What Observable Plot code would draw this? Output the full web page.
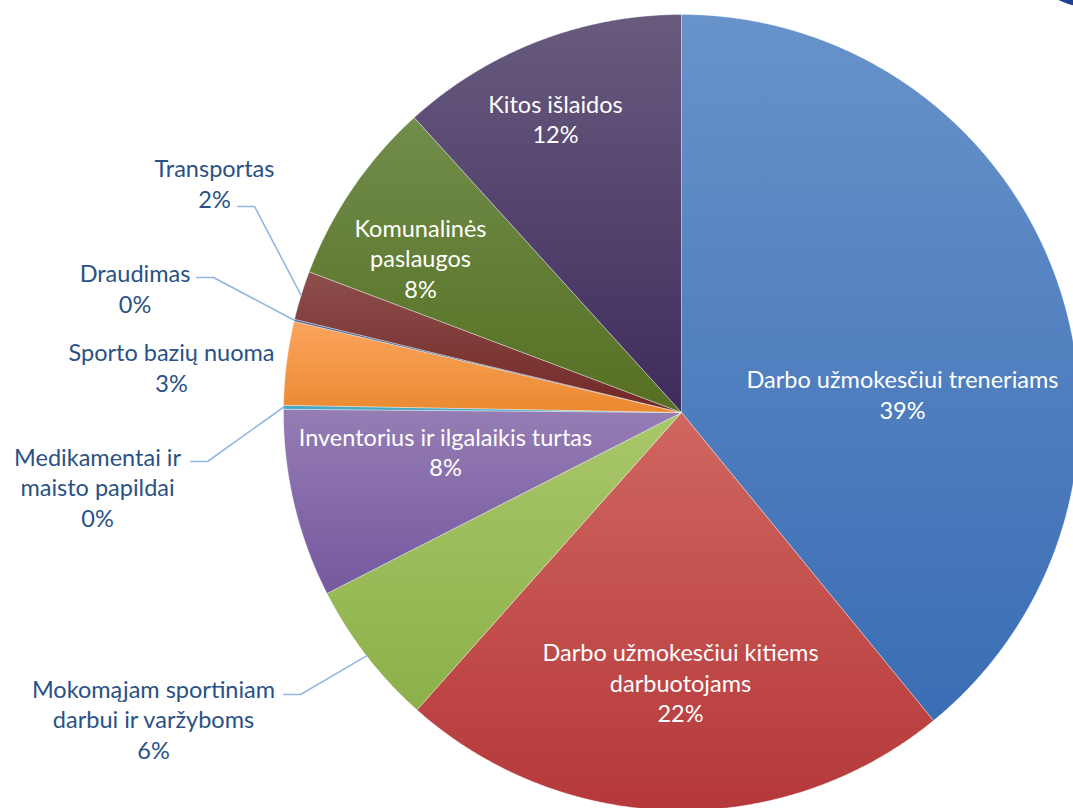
<!DOCTYPE html>
<html>
<head>
<meta charset="utf-8">
<script src="https://cdn.jsdelivr.net/npm/d3@7"></script>
<script src="https://cdn.jsdelivr.net/npm/@observablehq/plot@0.6"></script>
<style>
  html, body { margin: 0; padding: 0; background: #fff; overflow: hidden; }
  #wrap { position: relative; width: 1073px; height: 808px; overflow: hidden; }
  #blob { position: absolute; left: 1048px; top: -34px; width: 130px; height: 44px; border-radius: 50%; background: #1f3f93; }
</style>
</head>
<body>
<div id="wrap"><div id="chart"></div><div id="blob"></div></div>
<script>
// ---- data ----
const categories = [
  "Darbo užmokesčiui treneriams",
  "Darbo užmokesčiui kitiems\ndarbuotojams",
  "Mokomąjam sportiniam\ndarbui ir varžyboms",
  "Inventorius ir ilgalaikis turtas",
  "Medikamentai ir\nmaisto papildai",
  "Sporto bazių nuoma",
  "Draudimas",
  "Transportas",
  "Komunalinės\npaslaugos",
  "Kitos išlaidos"
];
const percentValues = [39.09, 22.48, 5.92, 7.64, 0.16, 3.39, 0.08, 1.99, 7.53, 11.72];
const percentLabels = ["39%", "22%", "6%", "8%", "0%", "3%", "0%", "2%", "8%", "12%"];

// ---- styles / layout ----
const sliceColors = [
  ["#6892ca", "#3a6db4"],
  ["#d0665f", "#b5383a"],
  ["#a8c76a", "#8cb049"],
  ["#957db4", "#75589f"],
  ["#4bacc6", "#43a2bd"],
  ["#fca45e", "#ea892f"],
  ["#3e6192", "#335482"],
  ["#8d4e4c", "#712826"],
  ["#718d4a", "#566f22"],
  ["#685b7e", "#3e2c5c"]
];
const insideLabel = [true, true, false, true, false, false, false, false, true, true];
// label block centers, in pie-radius units (pie centre = 0,0)
const labelAnchors = [
  [0.5553, 0.0477], [-0.0025, -0.6771], [-1.3266, -0.7688], [-0.5930, -0.0967],
  [-1.4673, -0.1859], [-1.2814, 0.1156], [-1.3731, 0.3141], [-1.1734, 0.5779],
  [-0.6558, 0.3894], [-0.3166, 0.7399]
];
// leader-line elbows (pie-radius units); null = no leader
const leaderElbows = [null, null, [-0.9573, -0.7085], null, [-1.1910, -0.1231], null,
  [-1.1759, 0.3392], [-1.0729, 0.5176], null, null];
const leaderTail = 0.042;

const W = 1073, H = 808, R = 398, CX = 681, CY = 412;

// ---- geometry from data ----
const arcs = d3.pie().sort(null).value(d => d)(percentValues);
const slicePts = [];
arcs.forEach((a, i) => {
  const fill = `url(#grad${i})`;
  slicePts.push({x: 0, y: 0, s: i, fill});
  const n = Math.max(2, Math.ceil((a.endAngle - a.startAngle) / 0.004));
  for (let k = 0; k <= n; k++) {
    const t = a.startAngle + (a.endAngle - a.startAngle) * k / n;
    slicePts.push({x: Math.sin(t), y: Math.cos(t), s: i, fill});
  }
  slicePts.push({x: 0, y: 0, s: i, fill});
});

const leaderPts = [];
arcs.forEach((a, i) => {
  const e = leaderElbows[i];
  if (!e) return;
  const m = (a.startAngle + a.endAngle) / 2;
  leaderPts.push({x: Math.sin(m), y: Math.cos(m), s: i});
  leaderPts.push({x: e[0], y: e[1], s: i});
  leaderPts.push({x: e[0] - leaderTail, y: e[1], s: i});
});

const labels = categories.map((c, i) => ({
  x: labelAnchors[i][0], y: labelAnchors[i][1],
  text: c + "\n" + percentLabels[i],
  color: insideLabel[i] ? "#ffffff" : "#2a5185"
}));

function gradientDefs() {
  const defs = d3.create("svg:defs");
  sliceColors.forEach((c, i) => {
    const g = defs.append("linearGradient").attr("id", "grad" + i)
      .attr("x1", 0).attr("y1", 0).attr("x2", 0).attr("y2", 1);
    g.append("stop").attr("offset", "0%").attr("stop-color", c[0]);
    g.append("stop").attr("offset", "100%").attr("stop-color", c[1]);
  });
  return defs.node();
}

const chart = Plot.plot({
  width: W, height: H,
  margin: 0,
  x: {domain: [-CX / R, (W - CX) / R], axis: null},
  y: {domain: [(CY - H) / R, CY / R], axis: null},
  color: {type: "identity"},
  style: {background: "#fff", overflow: "hidden"},
  marks: [
    gradientDefs,
    Plot.line(slicePts, {x: "x", y: "y", z: "s", fill: "fill", stroke: "#ffffff", strokeWidth: 0.6, strokeOpacity: 0.6, curve: "linear"}),
    Plot.line(leaderPts, {x: "x", y: "y", z: "s", stroke: "#93b7e3", strokeWidth: 1.6}),
    Plot.text(labels, {x: "x", y: "y", text: "text", fill: "color", fontSize: 23.5, lineHeight: 1.3, fontFamily: "Lato", textAnchor: "middle"})
  ]
});
document.getElementById("chart").appendChild(chart);
</script>
</body>
</html>
